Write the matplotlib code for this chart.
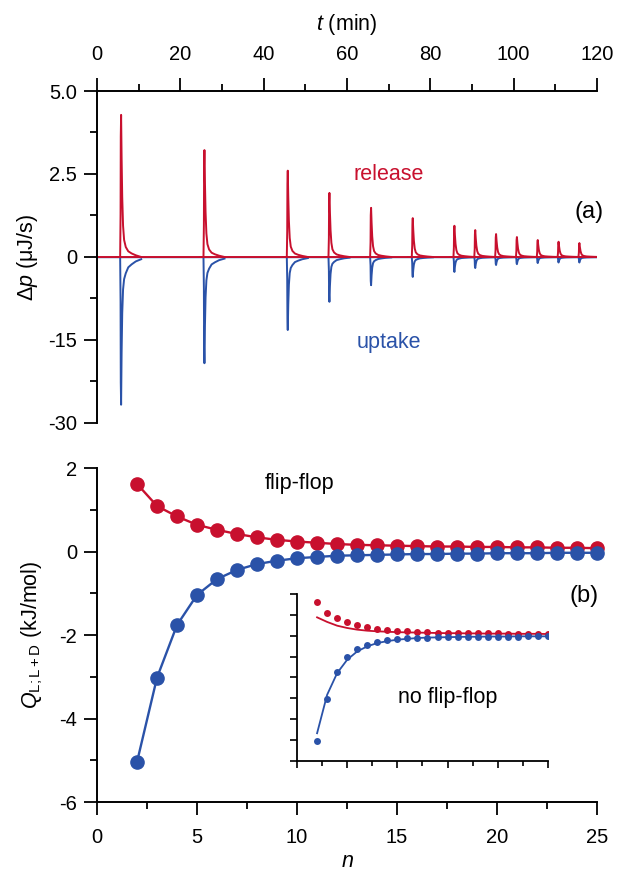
import numpy as np
import matplotlib
matplotlib.use('Agg')
import matplotlib.pyplot as plt
from matplotlib.ticker import FixedLocator, MultipleLocator

plt.rcParams['font.family'] = ['Liberation Sans', 'DejaVu Sans']
plt.rcParams['mathtext.fontset'] = 'custom'
plt.rcParams['mathtext.rm'] = 'Liberation Sans'
plt.rcParams['mathtext.it'] = 'Liberation Sans:italic'
plt.rcParams['axes.unicode_minus'] = False

RED = '#c8102e'
BLUE = '#2a52a8'

# ---- panel (a): injection times (min) and peak heights (uJ/s)
t_inj = [5.7, 25.7, 45.7, 55.7, 65.7, 75.7, 85.7, 90.7, 95.7, 100.7, 105.7, 110.7, 115.7]
h_release = [4.28, 3.22, 2.6, 1.93, 1.48, 1.17, 0.94, 0.81, 0.69, 0.6, 0.51, 0.46, 0.42]
h_uptake = [-26.7, -19.2, -13.2, -8.1, -5.1, -3.6, -2.7, -2.0, -1.45, -1.3, -1.1, -1.0, -1.0]

# peak profile read from first peak (offset in min, fraction of peak height)
rel_off = [-1.0, -0.15, -0.05, 0.0, 0.08, 0.2, 0.35, 0.55, 0.8, 1.2, 1.8, 2.6, 3.6, 4.9]
rel_shape = [0, 0, 0.3, 0.85, 1.0, 0.7, 0.42, 0.22, 0.12, 0.07, 0.04, 0.025, 0.012, 0]
upt_off = [-1.0, -0.15, -0.05, 0.0, 0.08, 0.2, 0.35, 0.55, 0.8, 1.2, 1.8, 2.6, 3.6, 4.9]
upt_shape = [0, 0, 0.3, 0.85, 1.0, 0.65, 0.38, 0.22, 0.15, 0.11, 0.07, 0.05, 0.03, 0.015]

# ---- panel (b): Q values per injection number
n_inj = list(range(2, 26))
q_release = [1.62, 1.09, 0.84, 0.64, 0.52, 0.42, 0.34, 0.28, 0.24, 0.21, 0.18, 0.16,
             0.15, 0.14, 0.13, 0.12, 0.12, 0.11, 0.11, 0.10, 0.10, 0.09, 0.09, 0.08]
q_uptake = [-5.04, -3.02, -1.76, -1.04, -0.66, -0.44, -0.30, -0.22, -0.16, -0.13, -0.10, -0.09,
            -0.08, -0.07, -0.06, -0.06, -0.05, -0.05, -0.04, -0.04, -0.04, -0.03, -0.03, -0.03]
# inset: no flip-flop model curves
fit_release_nff = [0.88, 0.66, 0.48, 0.37, 0.29, 0.24, 0.21, 0.19, 0.17, 0.16, 0.15, 0.14,
                   0.13, 0.12, 0.12, 0.11, 0.11, 0.10, 0.10, 0.10, 0.09, 0.09, 0.09, 0.08]
fit_uptake_nff = [-4.67, -2.83, -1.79, -1.15, -0.75, -0.51, -0.35, -0.26, -0.19, -0.15, -0.11, -0.09,
                  -0.08, -0.07, -0.06, -0.05, -0.05, -0.04, -0.04, -0.04, -0.03, -0.03, -0.03, -0.03]

TICK_FS = 14.5
LAB_FS = 15.5
TXT_FS = 15.5

fig = plt.figure(figsize=(6.18, 8.75), dpi=100)


def style_ticks(ax):
    ax.tick_params(which='major', direction='out', length=9.5, width=1.3,
                   labelsize=TICK_FS, pad=5)
    ax.tick_params(which='minor', direction='out', length=5, width=1.3)
    for s in ax.spines.values():
        s.set_linewidth(1.4)


# ---------------- panel (a)
axa = fig.add_axes([0.157, 0.5166, 0.809, 0.3794])


def fwd(y):
    y = np.asarray(y, dtype=float)
    return np.where(y >= 0, y / 2.5, y / 15.0)


def inv(u):
    u = np.asarray(u, dtype=float)
    return np.where(u >= 0, u * 2.5, u * 15.0)


axa.set_yscale('function', functions=(fwd, inv))
axa.plot([0, 120], [0, 0], color=BLUE, lw=1.0)
for t0, h in zip(t_inj, h_uptake):
    axa.plot(np.add(t0, upt_off), np.multiply(h, upt_shape), color=BLUE, lw=1.4)
axa.plot([0, 120], [0, 0], color=RED, lw=1.4)
for t0, h in zip(t_inj, h_release):
    axa.plot(np.add(t0, rel_off), np.multiply(h, rel_shape), color=RED, lw=1.4)

axa.set_xlim(0, 120)
axa.set_ylim(-30, 5)
axa.yaxis.set_major_locator(FixedLocator([-30, -15, 0, 2.5, 5]))
axa.yaxis.set_minor_locator(FixedLocator([-22.5, -7.5, 1.25, 3.75]))
axa.set_yticklabels(['-30', '-15', '0', '2.5', '5.0'])
axa.xaxis.set_major_locator(MultipleLocator(20))
axa.xaxis.set_minor_locator(MultipleLocator(10))
axa.xaxis.tick_top()
axa.xaxis.set_label_position('top')
axa.spines['bottom'].set_visible(False)
axa.spines['right'].set_visible(False)
style_ticks(axa)
axa.tick_params(axis='x', which='major', pad=10)
axa.set_xlabel(r'$t$ (min)', fontsize=LAB_FS, labelpad=11)
axa.set_ylabel(r'$\Delta p$ ($\mathrm{\mu}$J/s)', fontsize=LAB_FS, labelpad=6)
axa.text(70, 2.47, 'release', color=RED, fontsize=TXT_FS, ha='center', va='center')
axa.text(70, -15.5, 'uptake', color=BLUE, fontsize=TXT_FS, ha='center', va='center')
axa.text(121.5, 1.36, '(a)', fontsize=17, ha='right', va='center')

# ---------------- panel (b)
axb = fig.add_axes([0.157, 0.0834, 0.809, 0.3817])
axb.plot(n_inj, q_release, '-o', color=RED, lw=1.7, ms=9.5, mec=RED)
axb.plot(n_inj, q_uptake, '-o', color=BLUE, lw=1.7, ms=9.5, mec=BLUE)
axb.set_xlim(0, 25)
axb.set_ylim(-6, 2)
axb.xaxis.set_major_locator(MultipleLocator(5))
axb.xaxis.set_minor_locator(MultipleLocator(2.5))
axb.yaxis.set_major_locator(MultipleLocator(2))
axb.yaxis.set_minor_locator(MultipleLocator(1))
axb.spines['top'].set_visible(False)
axb.spines['right'].set_visible(False)
style_ticks(axb)
axb.tick_params(axis='x', which='major', pad=9)
for c in axb.get_lines():
    c.set_clip_on(False)
axb.set_xlabel(r'$n$', fontsize=LAB_FS, labelpad=3)
axb.set_ylabel(r'$Q_{\mathrm{L;L+D}}$ (kJ/mol)', fontsize=LAB_FS, labelpad=10)
axb.text(10.15, 1.64, 'flip-flop', fontsize=TXT_FS, ha='center', va='center')
axb.text(25.1, -1.07, '(b)', fontsize=17, ha='right', va='center')

# ---------------- inset
axi = fig.add_axes([0.4806, 0.1303, 0.406, 0.1909])
axi.plot(n_inj, fit_release_nff, '-', color=RED, lw=1.3)
axi.plot(n_inj, fit_uptake_nff, '-', color=BLUE, lw=1.3)
axi.plot(n_inj, q_release, 'o', color=RED, ms=5, mec='none')
axi.plot(n_inj, q_uptake, 'o', color=BLUE, ms=5, mec='none')
axi.set_xlim(0, 25)
axi.set_ylim(-6, 2)
axi.xaxis.set_major_locator(MultipleLocator(5))
axi.xaxis.set_minor_locator(MultipleLocator(2.5))
axi.yaxis.set_major_locator(MultipleLocator(1))
axi.set_xticklabels([])
axi.set_yticklabels([])
axi.spines['top'].set_visible(False)
axi.spines['right'].set_visible(False)
axi.tick_params(which='major', direction='out', length=5, width=1.2)
axi.tick_params(which='minor', direction='out', length=3.5, width=1.2)
for s in axi.spines.values():
    s.set_linewidth(1.3)
axi.text(15, -2.95, 'no flip-flop', fontsize=TXT_FS, ha='center', va='center')

fig.savefig('out.png', dpi=100)
